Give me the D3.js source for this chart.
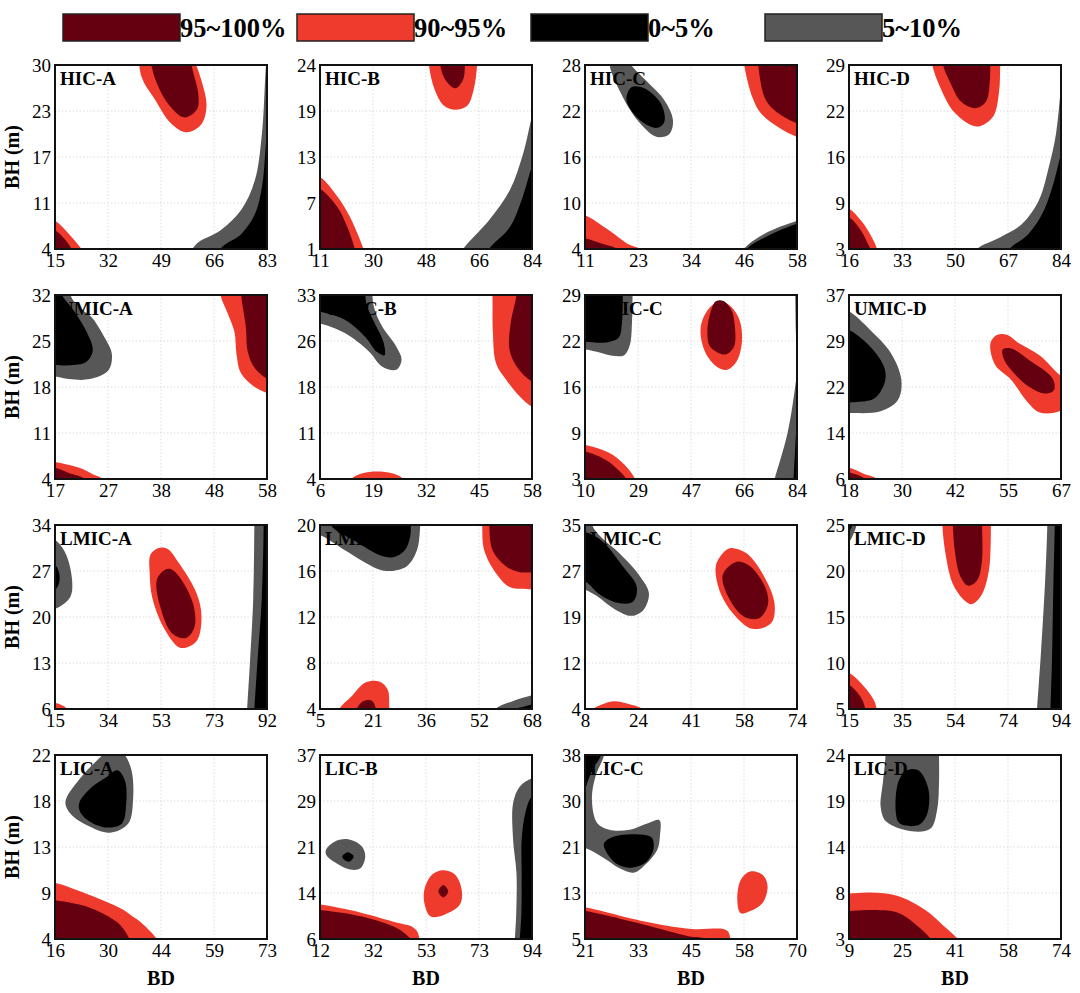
<!DOCTYPE html>
<html>
<head>
<meta charset="utf-8">
<script src="https://cdn.jsdelivr.net/npm/d3@7"></script>
<style>
  body { margin: 0; background: #fff; }
  svg text { font-family: "Liberation Serif", "Times New Roman", serif; }
</style>
</head>
<body>
<div id="chart"></div>
<script>
// panel names, tick labels (5 evenly spaced ticks per axis)
const panelNames = ["HIC-A", "HIC-B", "HIC-C", "HIC-D",
  "UMIC-A", "UMIC-B", "UMIC-C", "UMIC-D",
  "LMIC-A", "LMIC-B", "LMIC-C", "LMIC-D",
  "LIC-A", "LIC-B", "LIC-C", "LIC-D"];

const xTickLabels = [
  [15, 32, 49, 66, 83], [11, 30, 48, 66, 84], [11, 23, 34, 46, 58], [16, 33, 50, 67, 84],
  [17, 27, 38, 48, 58], [6, 19, 32, 45, 58], [10, 29, 47, 66, 84], [18, 30, 42, 55, 67],
  [15, 34, 53, 73, 92], [5, 21, 36, 52, 68], [8, 24, 41, 58, 74], [15, 35, 54, 74, 94],
  [16, 30, 44, 59, 73], [12, 32, 53, 73, 94], [21, 33, 45, 58, 70], [9, 25, 41, 58, 74]];

const yTickLabels = [
  [4, 11, 17, 23, 30], [1, 7, 13, 19, 24], [4, 10, 16, 22, 28], [3, 9, 16, 22, 29],
  [4, 11, 18, 25, 32], [4, 11, 18, 26, 33], [3, 9, 16, 22, 29], [6, 14, 22, 29, 37],
  [6, 13, 20, 27, 34], [4, 8, 12, 16, 20], [4, 12, 19, 27, 35], [5, 10, 15, 20, 25],
  [4, 9, 13, 18, 22], [6, 14, 21, 29, 37], [5, 13, 21, 30, 38], [3, 8, 14, 19, 24]];

const legendLabels = [["dark", "95~100%"], ["red", "90~95%"], ["black", "0~5%"], ["gray", "5~10%"]];
const levelColor = { dark: "#650010", red: "#ee3b2e", black: "#000000", gray: "#575757" };

// contour regions, traced in data units (BD, BH)
// b = boundary (smooth), o = closing points outside the plot (straight); no o = closed blob
const HIC_A = [
  { lvl: "gray", b: [[55.8, 0.1], [59.9, 4.5], [68.0, 6.6], [74.7, 9.5], [79.1, 13.7], [81.4, 20.4], [82.7, 30], [83.7, 33.9]], o: [[95, 34], [95, 0]] },
  { lvl: "black", b: [[65.3, 0.1], [68.0, 4], [74.7, 6.1], [79.1, 8.9], [81.4, 12.8], [82.5, 18.0], [83.3, 24.3]], o: [[95, 24.3], [95, 0]] },
  { lvl: "red", b: [[41.5, 33.9], [42.7, 28.4], [47.1, 25.1], [52.1, 21.8], [57.0, 20.5], [61.9, 21.6], [63.6, 24.2], [61.9, 27.9], [59.2, 31.3], [57.2, 33.9]], o: [[57, 40], [41, 40]] },
  { lvl: "dark", b: [[44.9, 33.1], [45.9, 30], [47.6, 27.5], [51.5, 24.4], [56.5, 22.6], [60.6, 23.8], [60.9, 26.1], [59.2, 29.2], [57.2, 33.1]], o: [[57, 40], [44, 40]] },
  { lvl: "red", b: [[11.6, 8.4], [15, 8.0], [19.1, 6.3], [23.5, 4], [25.2, 2.7]], o: [[5, -5], [5, 8.4]] },
  { lvl: "dark", b: [[11.6, 6.9], [15, 6.6], [17.7, 5.6], [20.4, 4], [21.8, 2.7]], o: [[5, -5], [5, 6.9]] }
];

const HIC_B = [
  { lvl: "red", b: [[48.2, 26.8], [48.5, 24], [50.5, 20.9], [53.7, 18.9], [57.6, 18.4], [61.7, 18.9], [63.9, 20.9], [65.1, 24], [65.4, 26.8]], o: [[66, 30], [48, 30]] },
  { lvl: "dark", b: [[52.2, 26.8], [52.4, 24], [54.1, 22.2], [57.6, 21.1], [60.3, 22.2], [60.9, 24], [61.1, 26.8]], o: [[62, 30], [52, 30]] },
  { lvl: "red", b: [[7.4, 10.2], [11, 10.0], [17.1, 7.5], [21.2, 5.1], [23.0, 3.7], [26.0, 1], [27.1, -0.4]], o: [[0, -5], [0, 10.2]] },
  { lvl: "dark", b: [[7.4, 8.7], [11, 8.5], [17.1, 6.2], [20.1, 4.0], [21.3, 2.9], [23.0, 1], [23.8, -0.4]], o: [[0, -5], [0, 8.7]] },
  { lvl: "gray", b: [[58.5, -0.4], [60.3, 1], [69.2, 4.6], [76.3, 8.3], [81.0, 13.0], [84, 17.6], [85.5, 19.4]], o: [[95, 19.4], [95, -5]] },
  { lvl: "black", b: [[67.9, -0.4], [69.2, 1], [76.3, 3.7], [80.4, 7.1], [84, 11.3], [85.5, 12.5]], o: [[95, 12.5], [95, -5]] }
];

const HIC_C = [
  { lvl: "gray", b: [[16.4, 28.7], [19.4, 23.8], [23.2, 20.4], [27.0, 18.6], [29.7, 19.0], [30.5, 20.8], [28.6, 23.4], [24.8, 25.8], [20.9, 28.2], [18.5, 30.4]] },
  { lvl: "black", b: [[21.3, 25.1], [20.2, 23.4], [23.2, 20.8], [27.0, 19.8], [28.6, 20.6], [27.8, 23.0], [24.0, 25.0]] },
  { lvl: "red", b: [[46.0, 30.4], [46.3, 28], [48.1, 23.8], [50.0, 21.7], [53.8, 19.9], [58, 18.6], [60.4, 18.2]], o: [[65, 18.2], [65, 32]] },
  { lvl: "dark", b: [[49.1, 30.4], [49.4, 28], [50.8, 23.8], [53.0, 22.1], [58, 20.4], [60.4, 20.1]], o: [[65, 20.1], [65, 32]] },
  { lvl: "red", b: [[8.7, 8.6], [11, 8.4], [16.4, 6.4], [20.4, 4.7], [23.2, 4], [24.6, 2.8]], o: [[0, 0], [0, 8.6]] },
  { lvl: "dark", b: [[8.7, 5.6], [11, 5.4], [14.8, 4.7], [18.1, 4], [19.0, 2.8]], o: [[0, 0], [0, 5.6]] },
  { lvl: "gray", b: [[45.3, 2.8], [46.2, 4], [50.8, 6.0], [58, 7.7], [60.4, 8.1]], o: [[65, 8.1], [65, 0]] },
  { lvl: "black", b: [[46.3, 2.8], [46.9, 4], [51.5, 5.7], [58, 7.3], [60.4, 7.6]], o: [[65, 7.6], [65, 0]] }
];

const HIC_D = [
  { lvl: "red", b: [[42.2, 31.6], [42.7, 29], [45.2, 25.9], [50, 22.2], [57.0, 20.3], [62.2, 21.7], [64.1, 25.1], [64.5, 29], [64.6, 31.6]], o: [[65, 35], [42, 35]] },
  { lvl: "dark", b: [[45.9, 31.6], [46.2, 29], [48.6, 26.4], [52.0, 23.8], [56.5, 22.9], [59.9, 23.8], [61.2, 26.9], [61.2, 31.6]], o: [[62, 35], [45, 35]] },
  { lvl: "red", b: [[12.6, 9.0], [16, 8.7], [20.1, 6.9], [22.8, 5.1], [25.0, 3], [25.5, 1.7]], o: [[5, -5], [5, 9]] },
  { lvl: "dark", b: [[12.6, 7.7], [16, 7.5], [19.4, 5.9], [21.8, 4.0], [22.8, 3], [23.1, 1.7]], o: [[5, -5], [5, 7.7]] },
  { lvl: "gray", b: [[55.4, 1.7], [57.0, 3], [64.7, 4.7], [71.4, 6.5], [76.9, 9.9], [80.1, 14.6], [82.4, 19.3], [84, 25.7], [84.7, 27.7]], o: [[95, 27.7], [95, -5]] },
  { lvl: "black", b: [[66.3, 1.7], [67.5, 3], [73.5, 5.1], [77.9, 7.9], [81.2, 11.7], [84, 16.5], [84.7, 17.6]], o: [[95, 17.6], [95, -5]] }
];

const UMIC_A = [
  { lvl: "gray", b: [[20.3, 34.8], [20.0, 32], [21.9, 30.0], [24.0, 28.7], [26.4, 25.8], [28.0, 23.0], [27.3, 20.5], [23.7, 19.2], [19.7, 19.2], [17, 19.6], [15.0, 19.7]], o: [[10, 19.7], [10, 36]] },
  { lvl: "black", b: [[18.2, 34.8], [18.4, 32], [20.3, 30.0], [22.7, 27.0], [24.3, 23.6], [23.0, 21.8], [19.7, 21.3], [17, 21.4], [15, 21.4]], o: [[10, 21.4], [10, 36]] },
  { lvl: "red", b: [[48.8, 34.8], [49.0, 32], [50.4, 29.2], [51.7, 26.4], [52.1, 23.0], [52.9, 20.2], [55.1, 18.3], [58, 17.1], [60.1, 16.7]], o: [[65, 16.7], [65, 36]] },
  { lvl: "dark", b: [[52.9, 34.8], [53.0, 32], [53.9, 27.2], [54.3, 23.3], [55.7, 20.8], [58, 19.3], [60.1, 19.1]], o: [[65, 19.1], [65, 36]] },
  { lvl: "red", b: [[15, 6.7], [17, 6.6], [21.7, 5.7], [24.4, 4.7], [26.3, 4], [27.3, 2.6]], o: [[10, 0], [10, 6.7]] },
  { lvl: "dark", b: [[15, 5.7], [17, 5.7], [19.7, 4.9], [22.7, 4], [23.2, 2.6]], o: [[10, 0], [10, 5.7]] }
];

const UMIC_B = [
  { lvl: "gray", b: [[3.4, 28.7], [6, 28.5], [12.1, 27.0], [18.0, 24.1], [21.3, 21.7], [24.7, 21.2], [26.0, 22.8], [24.7, 24.9], [21.3, 28.0], [19.2, 31.2], [18.7, 35.9]], o: [[0, 38], [0, 28.7]] },
  { lvl: "black", b: [[3.4, 30.7], [6, 30.4], [12.1, 29.1], [17.1, 26.4], [20.0, 24.0], [21.8, 23.5], [21.6, 25.5], [19.3, 28.7], [17.4, 31.6], [16.9, 35.9]], o: [[0, 38], [0, 30.7]] },
  { lvl: "red", b: [[48.1, 35.9], [48.3, 33], [48.4, 27.2], [49.2, 22.2], [51.7, 19.6], [55.0, 17.0], [58, 15.4], [60.6, 15.0]], o: [[65, 15], [65, 38]] },
  { lvl: "dark", b: [[54.4, 35.9], [54.2, 33], [52.8, 28.7], [52.5, 24.3], [54.6, 21.4], [58, 19.4], [60.6, 19.1]], o: [[65, 19.1], [65, 38]] },
  { lvl: "red", b: [[12.8, 2.6], [13.7, 4], [16.4, 4.9], [20.0, 5.2], [23.7, 4.9], [26.4, 4], [27.3, 2.6]], o: [] }
];

const UMIC_C = [
  { lvl: "gray", b: [[26.7, 31.6], [26.6, 29], [26.4, 25.1], [25.7, 22.0], [23.7, 20.5], [19.6, 20.4], [13.7, 21.0], [10, 21.3], [6.3, 21.3]], o: [[0, 21.3], [0, 35]] },
  { lvl: "black", b: [[23.3, 31.6], [23.2, 29], [22.9, 25.1], [21.8, 23.0], [17.4, 22.3], [10, 22.4], [6.3, 22.4]], o: [[0, 22.4], [0, 35]] },
  { lvl: "red", b: [[54.5, 27.6], [51.4, 25.9], [50.3, 23.8], [52.1, 20.8], [55.9, 18.9], [59.4, 18.4], [62.9, 19.6], [64.8, 22.5], [64.0, 25.4], [61.1, 27.3], [57.7, 28.1]] },
  { lvl: "dark", b: [[55.7, 28.1], [53.7, 26.4], [52.7, 23.8], [53.7, 21.7], [58.8, 20.6], [62.0, 21.7], [62.3, 24.6], [61.1, 26.9], [58.1, 28.2]] },
  { lvl: "red", b: [[6.3, 7.9], [10, 7.8], [18.4, 6.7], [23.8, 5.0], [27.5, 3], [28.5, 1.7]], o: [[0, -5], [0, 7.9]] },
  { lvl: "dark", b: [[6.3, 7.0], [10, 6.9], [17.3, 5.7], [22.1, 4.1], [24.4, 3], [25.5, 1.7]], o: [[0, -5], [0, 7]] },
  { lvl: "gray", b: [[83.4, 31.6], [83.4, 29], [83.6, 23.8], [84, 18.6], [82.9, 14.7], [80.7, 9.5], [78.1, 5.6], [76.2, 3], [75.5, 1.7]], o: [[95, -5], [95, 35]] },
  { lvl: "black", b: [[84.4, 16], [84, 12.1], [83.3, 6.9], [82.8, 3], [82.7, 1.7]], o: [[95, -5], [95, 16]] }
];

const UMIC_D = [
  { lvl: "gray", b: [[15.6, 34.5], [18, 34.2], [22.9, 31.1], [27.7, 27.2], [30.1, 22.7], [29.3, 19.3], [25.3, 17.4], [18, 17.1], [15.6, 17.1]], o: [[10, 17.1], [10, 34.5]] },
  { lvl: "black", b: [[15.6, 31.3], [18, 31.1], [22.9, 28.3], [26.1, 24.9], [26.3, 22.4], [23.9, 19.6], [20.5, 19.0], [18, 18.9], [15.6, 18.9]], o: [[10, 18.9], [10, 31.3]] },
  { lvl: "red", b: [[52.3, 30.3], [50.7, 28.9], [51.8, 25.2], [55.5, 22.7], [59.2, 19.0], [62.1, 17.2], [67, 17.5], [69.5, 19.0], [69.5, 22.7], [67, 23.4], [62.1, 26.8], [57.2, 28.9], [54.5, 30.3]] },
  { lvl: "dark", b: [[53.5, 27.8], [53.8, 26.2], [55.2, 24.6], [59.5, 21.6], [63.4, 20.4], [65.4, 21.0], [65.0, 23.0], [59.5, 26.1], [55.5, 28.0]] },
  { lvl: "red", b: [[15.6, 7.9], [18, 7.9], [21.4, 6.9], [24.5, 6], [25.4, 4.5]], o: [[10, 0], [10, 7.9]] },
  { lvl: "dark", b: [[15.6, 7.2], [18, 7.1], [21.7, 6], [22.4, 4.5]], o: [[10, 0], [10, 7.2]] }
];

const LMIC_A = [
  { lvl: "gray", b: [[11.2, 32.0], [15, 31.7], [18.8, 29.7], [21.2, 25.7], [20.6, 23.1], [16.8, 21.6], [15, 21.3], [11.2, 21.3]], o: [[5, 21.3], [5, 32]] },
  { lvl: "black", b: [[11.2, 28.1], [15, 27.9], [16.5, 26.7], [16.5, 25.2], [15, 24.1], [11.2, 23.9]], o: [[5, 23.9], [5, 28.1]] },
  { lvl: "red", b: [[52.6, 30.5], [49.7, 29.5], [49.4, 26.7], [50.4, 22.8], [55.0, 18.0], [60.7, 15.3], [66.4, 16.3], [68.2, 20.1], [66.4, 23.6], [60.0, 28.2], [55.8, 30.4]] },
  { lvl: "dark", b: [[55.0, 27.2], [52.0, 25.7], [53.2, 21.6], [57.6, 17.5], [62.6, 16.8], [65.7, 18.5], [65.1, 22.1], [60.0, 26.2], [57.0, 27.3]] },
  { lvl: "gray", b: [[87.4, 36.8], [87.4, 34], [87.0, 22.8], [85.8, 13], [84.8, 6], [84.7, 4.6]], o: [[100, 0], [100, 40]] },
  { lvl: "black", b: [[90.8, 36.8], [90.8, 34], [90.1, 22.8], [88.5, 13], [87.4, 6], [87.2, 4.6]], o: [[100, 0], [100, 40]] },
  { lvl: "red", b: [[11.2, 7.0], [15, 6.9], [17.3, 6.6], [19.4, 6], [20, 4.6]], o: [[5, 0], [5, 7]] }
];

const LMIC_B = [
  { lvl: "gray", b: [[1.9, 19.2], [5, 19.1], [12.4, 17.8], [20.5, 16.4], [24.6, 16.0], [30.7, 16.4], [33.8, 17.8], [34.8, 20], [34.9, 21.6]], o: [[0, 25], [0, 19.2]] },
  { lvl: "black", b: [[7.5, 21.6], [8.2, 20], [15.4, 18.6], [22.6, 17.4], [26.7, 17.2], [30.2, 17.8], [31.8, 19.0], [32, 20], [32.1, 21.6]], o: [] },
  { lvl: "red", b: [[53.2, 21.6], [53.2, 20], [53.8, 17.8], [57.3, 15.8], [61.4, 14.6], [68, 14.4], [71.2, 14.3]], o: [[80, 14.3], [80, 25]] },
  { lvl: "dark", b: [[55.4, 21.6], [55.3, 20], [56.3, 17.8], [60.3, 16.4], [64.4, 15.9], [68, 15.9], [71.2, 15.9]], o: [[80, 15.9], [80, 25]] },
  { lvl: "red", b: [[10.4, 3.2], [10.8, 4], [14.4, 5.1], [18.5, 6.3], [22.6, 6.4], [25.1, 5.7], [25.6, 4], [25.8, 3.2]], o: [] },
  { lvl: "dark", b: [[15.7, 3.2], [15.9, 4], [18.0, 4.7], [20.5, 4.7], [21.6, 4], [21.7, 3.2]], o: [] },
  { lvl: "gray", b: [[56.7, 3.2], [57.3, 4], [62.4, 4.7], [68, 5.2], [71.2, 5.4]], o: [[80, 5.4], [80, 0]] },
  { lvl: "black", b: [[63, 3.2], [63.4, 4], [65.5, 4.2], [68, 4.4], [71.2, 4.5]], o: [[80, 4.5], [80, 0]] }
];

const LMIC_C = [
  { lvl: "gray", b: [[10.0, 38.1], [10.2, 35], [13.3, 32.8], [18.8, 30.2], [25.2, 26.3], [27.9, 23.5], [26.2, 20.7], [22.5, 19.7], [17.6, 20.7], [11.2, 23.2], [8, 24.1], [4.7, 24.3]], o: [[0, 24.3], [0, 38.1]] },
  { lvl: "black", b: [[4.7, 33.8], [8, 33.8], [13.3, 32.3], [19.8, 28.0], [24.1, 24.6], [23.0, 22.1], [18.8, 21.8], [12.8, 23.2], [8, 25.5], [4.7, 25.7]], o: [[0, 25.7], [0, 33.8]] },
  { lvl: "red", b: [[52.0, 30.8], [48.8, 28.3], [49.8, 24.1], [54.1, 20.1], [60.1, 17.5], [66.0, 18.5], [67.0, 21.8], [63.8, 26.3], [58.4, 30.2], [54.1, 31.1]] },
  { lvl: "dark", b: [[55.2, 28.8], [50.9, 26.6], [52.6, 22.9], [57.4, 19.6], [62.2, 19.3], [64.9, 21.5], [64.4, 24.1], [59.5, 28.0]] },
  { lvl: "red", b: [[10.0, 2.5], [10.7, 4], [13.9, 4.9], [17.1, 5.3], [21.9, 4.8], [25.7, 4], [26.5, 2.5]], o: [] }
];

const LMIC_D = [
  { lvl: "gray", b: [[18.2, 27], [17.8, 25], [16.6, 24], [15, 23.2], [11, 23]], o: [[5, 23], [5, 30]] },
  { lvl: "black", b: [[16.2, 27], [16.2, 25], [15.4, 24.4], [15, 24.1], [11, 24]], o: [[5, 24], [5, 30]] },
  { lvl: "red", b: [[49.8, 27], [49.8, 25], [50.9, 22], [53.7, 18.6], [58.1, 16.8], [60.7, 16.4], [64.4, 17.4], [67.1, 20], [67.8, 23], [67.8, 27]], o: [[68, 30], [49, 30]] },
  { lvl: "dark", b: [[53.6, 27], [53.7, 25], [54.5, 22], [56.5, 19.4], [59.4, 18.4], [62.8, 19.0], [64.5, 21], [64.6, 25], [64.6, 27]], o: [[65, 30], [53, 30]] },
  { lvl: "gray", b: [[89.0, 27], [88.9, 25], [88.1, 19], [86.5, 11], [85.1, 5], [84.9, 4]], o: [[100, 0], [100, 30]] },
  { lvl: "black", b: [[91.8, 27], [91.7, 25], [91.2, 19], [90.7, 11], [90.1, 5], [90, 4]], o: [[100, 0], [100, 30]] },
  { lvl: "red", b: [[11, 9], [15, 8.9], [20.4, 7.5], [24.2, 6.0], [25.3, 5], [25.5, 4]], o: [[5, 0], [5, 9]] },
  { lvl: "dark", b: [[11, 7.7], [15, 7.6], [19.1, 6.4], [20.5, 5.6], [21, 5], [21.2, 4]], o: [[5, 0], [5, 7.7]] }
];

const LIC_A = [
  { lvl: "gray", b: [[18.8, 17.4], [22.5, 19.6], [27.4, 21.5], [30.8, 22.5], [34.2, 22.2], [36.5, 20.6], [37.0, 17.7], [35.7, 15.3], [30.8, 14.4], [25.3, 15.0], [20.3, 16.2]] },
  { lvl: "black", b: [[22.5, 17.3], [25.7, 18.8], [29.7, 19.8], [32.8, 20.5], [34.8, 19.5], [35.1, 17.0], [34.0, 15.3], [29.9, 14.9], [25.3, 15.5], [22.8, 16.4]] },
  { lvl: "red", b: [[13.2, 9.6], [16, 9.5], [25.3, 8.3], [33.6, 7.0], [36.5, 6.3], [39.2, 5.6], [43.4, 4], [44.5, 3.1]], o: [[10, -2], [10, 9.6]] },
  { lvl: "dark", b: [[13.2, 7.9], [16, 7.8], [24.3, 7.2], [30.8, 6.1], [33.7, 5.3], [36.0, 4], [36.5, 3.1]], o: [[10, -2], [10, 7.9]] }
];

const LIC_B = [
  { lvl: "gray", b: [[14.3, 21.0], [17.6, 22.4], [22.9, 22.8], [28.2, 21.6], [29.5, 19.9], [27.6, 17.9], [23.6, 17.7], [18.2, 18.8], [14.5, 20.1]] },
  { lvl: "black", b: [[20.6, 19.8], [22.7, 20.6], [25.0, 19.9], [23.1, 19.0]] },
  { lvl: "red", b: [[59.5, 17.6], [55.5, 16.9], [52.6, 14.7], [52.3, 12.2], [54.8, 9.8], [60.1, 10.1], [66.1, 11.8], [66.8, 14.3], [64.1, 16.9]] },
  { lvl: "dark", b: [[59.7, 15.1], [61.6, 14.0], [59.7, 13.0], [57.8, 14.0]] },
  { lvl: "red", b: [[7.9, 11.9], [12, 11.8], [28.2, 10.4], [41.5, 8.8], [47.5, 8.1], [49.7, 7.2], [50.5, 6], [51, 4.5]], o: [[0, 0], [0, 11.9]] },
  { lvl: "dark", b: [[7.9, 11.0], [12, 10.9], [28.2, 9.8], [41.5, 7.9], [45.2, 6.8], [46.9, 6], [47.3, 4.5]], o: [[0, 0], [0, 11]] },
  { lvl: "gray", b: [[98.1, 33.3], [94, 33.1], [89.3, 31.7], [86.7, 28.9], [86.7, 22.7], [88.0, 17.1], [87.9, 10.3], [87.4, 6], [87.3, 4.5]], o: [[100, 0], [100, 33.3]] },
  { lvl: "black", b: [[98.1, 30.5], [94, 30], [91.4, 27.2], [90.0, 22.7], [90.0, 17.1], [89.9, 10.3], [89.3, 6], [89.2, 4.5]], o: [[100, 0], [100, 30.5]] }
];

const LIC_C = [
  { lvl: "gray", b: [[25.7, 41.3], [25.4, 38], [23.4, 34.1], [22.6, 30], [23.8, 25.8], [26.6, 24.6], [31.3, 24.6], [35.7, 25.8], [38.2, 26.3], [38.3, 23.4], [37.7, 21.0], [34.5, 18.0], [32.2, 16.9], [29.0, 17.7], [25.4, 19.5], [21, 21.3], [18.6, 21.5]], o: [[10, 21.5], [10, 41.3]] },
  { lvl: "black", b: [[24.9, 41.3], [24.7, 38], [23.0, 35.7], [21.7, 33.4], [21, 32.1], [18.6, 31.4]], o: [[10, 31.4], [10, 41.3]] },
  { lvl: "black", b: [[25.4, 22.2], [27.8, 23.4], [34.5, 23.7], [36.5, 23.1], [36.8, 21.0], [35.0, 18.7], [31.8, 17.8], [28.5, 18.4], [25.8, 20.8]] },
  { lvl: "red", b: [[59.2, 17.1], [57.0, 15.6], [56.2, 11.9], [57.0, 9.6], [59.2, 10.0], [62.0, 11.4], [63.2, 14.4], [62.2, 16.4]] },
  { lvl: "red", b: [[18.6, 10.9], [21, 10.7], [34.5, 8.2], [45.7, 6.8], [52.9, 6.8], [54.1, 6.3], [54.6, 5], [54.8, 3.3]], o: [[10, 0], [10, 10.9]] },
  { lvl: "dark", b: [[18.6, 10.1], [21, 10], [34.5, 7.6], [45, 5.5], [48.9, 5], [50.4, 3.3]], o: [[10, 0], [10, 10.1]] }
];

const LIC_D = [
  { lvl: "gray", b: [[20.1, 26.1], [20.2, 24], [19.4, 20.9], [18.7, 18.1], [20.4, 16.4], [28.2, 15.3], [34.0, 15.6], [36.0, 17.7], [36.6, 20.9], [36.6, 24], [36.6, 26.1]], o: [] },
  { lvl: "black", b: [[26.1, 22.1], [24.0, 20.8], [23.4, 17.3], [24.5, 16.2], [30.3, 16.0], [32.9, 17.2], [33.4, 20.0], [30.8, 22.1], [28.5, 22.4]] },
  { lvl: "red", b: [[5.8, 8.2], [9, 8.2], [15.5, 8.3], [24.0, 7.9], [32.4, 6.3], [37.7, 4.6], [42.4, 3], [44.1, 2]], o: [[0, -2], [0, 8.2]] },
  { lvl: "dark", b: [[5.8, 6.2], [9, 6.2], [15.5, 6.3], [24.0, 6.0], [30.3, 4.4], [34, 3], [35, 2]], o: [[0, -2], [0, 6.2]] }
];

const panelShapes = [HIC_A, HIC_B, HIC_C, HIC_D, UMIC_A, UMIC_B, UMIC_C, UMIC_D,
  LMIC_A, LMIC_B, LMIC_C, LMIC_D, LIC_A, LIC_B, LIC_C, LIC_D];

// layout
const W = 1080, H = 993;
const colLeft = [55, 320, 585, 849];
const rowTop = [65, 295, 525, 755];
const pw = 212, ph = 184;

const svg = d3.select("#chart").append("svg")
  .attr("width", W)
  .attr("height", H);

// legend
const legend = svg.append("g");
legendLabels.forEach((d, i) => {
  const lx = 63 + i * 234;
  legend.append("rect")
    .attr("x", lx).attr("y", 14)
    .attr("width", 117).attr("height", 27)
    .attr("fill", levelColor[d[0]])
    .attr("stroke", "#222").attr("stroke-width", 1.5);
  legend.append("text")
    .attr("x", lx + 117).attr("y", 37)
    .style("font-size", "26.5px").style("font-weight", "bold")
    .text(d[1]);
});

panelNames.forEach((name, k) => {
  const r = Math.floor(k / 4), c = k % 4;
  const xl = xTickLabels[k], yl = yTickLabels[k];

  const x = d3.scaleLinear().domain([xl[0], xl[4]]).range([0, pw]);
  const y = d3.scaleLinear().domain([yl[0], yl[4]]).range([ph, 0]);
  const xt = d3.range(5).map(i => xl[0] + i * (xl[4] - xl[0]) / 4);
  const yt = d3.range(5).map(i => yl[0] + i * (yl[4] - yl[0]) / 4);

  const g = svg.append("g")
    .attr("transform", "translate(" + colLeft[c] + "," + rowTop[r] + ")");

  g.append("clipPath").attr("id", "clip" + k)
    .append("rect").attr("width", pw).attr("height", ph);

  // grid
  const grid = g.append("g").attr("stroke", "#d4d4d4").attr("stroke-width", 0.8)
    .attr("stroke-dasharray", "1.5,2");
  xt.slice(1, 4).forEach(v => grid.append("line")
    .attr("x1", x(v)).attr("x2", x(v)).attr("y1", 0).attr("y2", ph));
  yt.slice(1, 4).forEach(v => grid.append("line")
    .attr("y1", y(v)).attr("y2", y(v)).attr("x1", 0).attr("x2", pw));

  // filled regions
  const smooth = d3.line().x(d => x(d[0])).y(d => y(d[1])).curve(d3.curveCatmullRom.alpha(0.5));
  const blob = d3.line().x(d => x(d[0])).y(d => y(d[1])).curve(d3.curveCatmullRomClosed.alpha(0.5));
  const straight = d3.line().x(d => x(d[0])).y(d => y(d[1]));

  const regions = g.append("g").attr("clip-path", "url(#clip" + k + ")");
  panelShapes[k].forEach(s => {
    let path;
    if (s.o) {
      path = smooth(s.b) + (s.o.length ? straight(s.o).replace(/^M/, "L") : "") + "Z";
    } else {
      path = blob(s.b);
    }
    regions.append("path").attr("d", path).attr("fill", levelColor[s.lvl]);
  });

  // frame
  g.append("rect").attr("width", pw).attr("height", ph)
    .attr("fill", "none").attr("stroke", "#111").attr("stroke-width", 2);

  g.append("text")
    .attr("x", 5).attr("y", 20)
    .style("font-size", "19px").style("font-weight", "bold")
    .text(name);

  // axes
  const xAxis = g.append("g").attr("transform", "translate(0," + ph + ")")
    .call(d3.axisBottom(x).tickValues(xt).tickSize(0).tickPadding(5)
      .tickFormat((d, i) => xl[i]));
  const yAxis = g.append("g")
    .call(d3.axisLeft(y).tickValues(yt).tickSize(0).tickPadding(4)
      .tickFormat((d, i) => yl[i]));
  [xAxis, yAxis].forEach(a => {
    a.select(".domain").remove();
    a.selectAll("text")
      .style("font-family", "'Liberation Serif', serif")
      .style("font-size", "19px")
      .attr("fill", "#000");
  });

  if (c === 0) {
    g.append("text")
      .attr("transform", "rotate(-90)")
      .attr("x", -ph / 2).attr("y", -36)
      .style("text-anchor", "middle")
      .style("font-size", "20px").style("font-weight", "bold")
      .text("BH (m)");
  }
  if (r === 3) {
    g.append("text")
      .attr("x", pw / 2).attr("y", ph + 46)
      .style("text-anchor", "middle")
      .style("font-size", "20px").style("font-weight", "bold")
      .text("BD");
  }
});
</script>
</body>
</html>
